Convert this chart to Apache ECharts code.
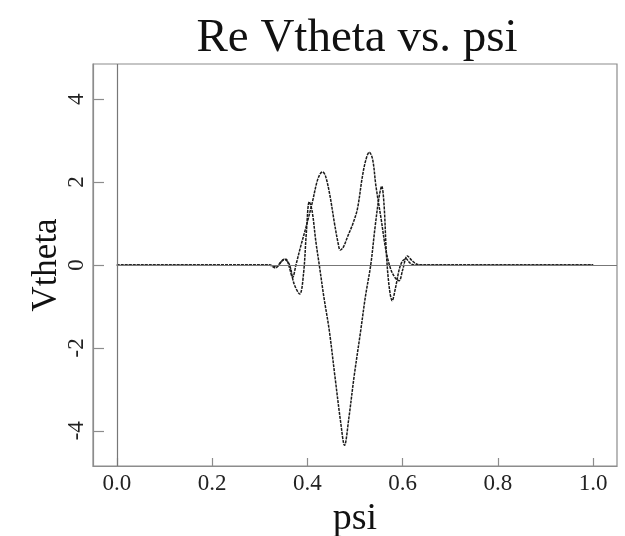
<!DOCTYPE html>
<html>
<head>
<meta charset="utf-8">
<script src="https://cdn.jsdelivr.net/npm/echarts@6/dist/echarts.min.js"></script>
<style>
html,body{margin:0;padding:0;background:#fff;}
#chart{width:625px;height:536px;}
</style>
</head>
<body>
<div id="chart"></div>
<script>
// ---- data ----
var psiA = [0, 0.30, 0.32, 0.335, 0.351, 0.362, 0.372, 0.384, 0.392, 0.398, 0.404, 0.410, 0.418, 0.425, 0.435, 0.446, 0.458, 0.470, 0.478, 0.487, 0.498, 0.512, 0.522, 0.533, 0.542, 0.550, 0.556, 0.561, 0.566, 0.572, 0.578, 0.585, 0.593, 0.600, 0.607, 0.615, 0.625, 0.64, 1.0];
var vthetaA = [0, 0, 0, -0.04, 0.14, 0.02, -0.45, -0.70, -0.2, 0.8, 1.525, 1.3, 0.55, 0, -0.8, -1.58, -2.7, -3.8, -4.35, -3.7, -2.7, -1.58, -0.75, 0, 0.9, 1.6, 1.9, 1.45, 0.25, -0.55, -0.86, -0.55, -0.1, 0.1, 0.15, 0.05, 0, 0, 0];

var psiB = [0, 0.30, 0.32, 0.333, 0.345, 0.355, 0.362, 0.369, 0.376, 0.386, 0.398, 0.4107, 0.42, 0.427, 0.432, 0.438, 0.447, 0.457, 0.465, 0.469, 0.475, 0.485, 0.495, 0.505, 0.515, 0.522, 0.53, 0.537, 0.544, 0.555, 0.565, 0.575, 0.585, 0.5925, 0.600, 0.610, 0.620, 0.630, 0.645, 1.0];
var vthetaB = [0, 0, 0, -0.07, 0.08, 0.14, -0.05, -0.30, 0, 0.45, 0.95, 1.525, 2.0, 2.2, 2.245, 2.15, 1.7, 1.0, 0.5, 0.36, 0.42, 0.7, 0.98, 1.35, 2.1, 2.5, 2.72, 2.55, 1.9, 1.1, 0.35, -0.1, -0.32, -0.38, -0.12, 0.22, 0.1, 0.02, 0, 0];

var xTicks = [0, 0.2, 0.4, 0.6, 0.8, 1.0];
var yTicks = [-4, -2, 0, 2, 4];

var titleText = 'Re Vtheta vs. psi';
var xName = 'psi';
var yName = 'Vtheta';

function pairs(xs, ys) {
  var out = [];
  for (var i = 0; i < xs.length; i++) out.push([xs[i], ys[i]]);
  return out;
}

var serif = '"Liberation Serif", "DejaVu Serif", serif';
var frameColor = '#8c8c8c';

var chart = echarts.init(document.getElementById('chart'), null, {renderer: 'canvas'});
chart.setOption({
  animation: false,
  backgroundColor: '#ffffff',
  title: {
    text: titleText,
    left: 352,
    textAlign: 'center',
    top: 10,
    textStyle: {fontFamily: serif, fontSize: 47, fontWeight: 'normal', color: '#111'}
  },
  grid: {
    left: 93, right: 8, top: 64, bottom: 70,
    outerBoundsMode: 'none',
    containLabel: false,
    show: true, borderColor: frameColor, borderWidth: 1.2, backgroundColor: 'transparent'
  },
  xAxis: {
    type: 'value',
    min: -0.05, max: 1.05,
    name: xName,
    nameLocation: 'middle',
    nameGap: 32,
    nameTextStyle: {fontFamily: serif, fontSize: 38, color: '#111'},
    axisLine: {show: true, onZero: false, lineStyle: {color: frameColor, width: 1.2}},
    axisTick: {show: true, inside: true, length: 8, customValues: xTicks, lineStyle: {color: frameColor, width: 1.2}},
    axisLabel: {show: true, customValues: xTicks, margin: 6, fontFamily: serif, fontSize: 23, color: '#222',
      formatter: function (v) { return v.toFixed(1); }},
    splitLine: {show: false}
  },
  yAxis: {
    type: 'value',
    min: -4.85, max: 4.85,
    name: yName,
    nameLocation: 'middle',
    nameGap: 29,
    nameMoveOverlap: false,
    nameRotate: 90,
    nameTextStyle: {fontFamily: serif, fontSize: 35, color: '#111'},
    axisLine: {show: true, onZero: false, lineStyle: {color: frameColor, width: 1.2}},
    axisTick: {show: true, inside: true, length: 11, customValues: yTicks, lineStyle: {color: frameColor, width: 1.2}},
    axisLabel: {show: true, customValues: yTicks, rotate: 90, margin: 5, fontFamily: serif, fontSize: 23, color: '#222'},
    splitLine: {show: false}
  },
  series: [
    {
      type: 'line',
      data: pairs(psiA, vthetaA),
      showSymbol: false,
      smooth: 0.35,
      lineStyle: {color: '#1a1a1a', width: 1.5, type: [3, 1]},
      z: 3,
      markLine: {
        silent: true,
        symbol: 'none',
        label: {show: false},
        lineStyle: {color: '#777', width: 1.2, type: 'solid'},
        data: [
          {xAxis: 0},
          [{coord: [0, 0]}, {coord: [1.05, 0]}]
        ]
      }
    },
    {
      type: 'line',
      data: pairs(psiB, vthetaB),
      showSymbol: false,
      smooth: 0.35,
      lineStyle: {color: '#1a1a1a', width: 1.5, type: [3, 1]},
      z: 3
    }
  ]
});
</script>
</body>
</html>
